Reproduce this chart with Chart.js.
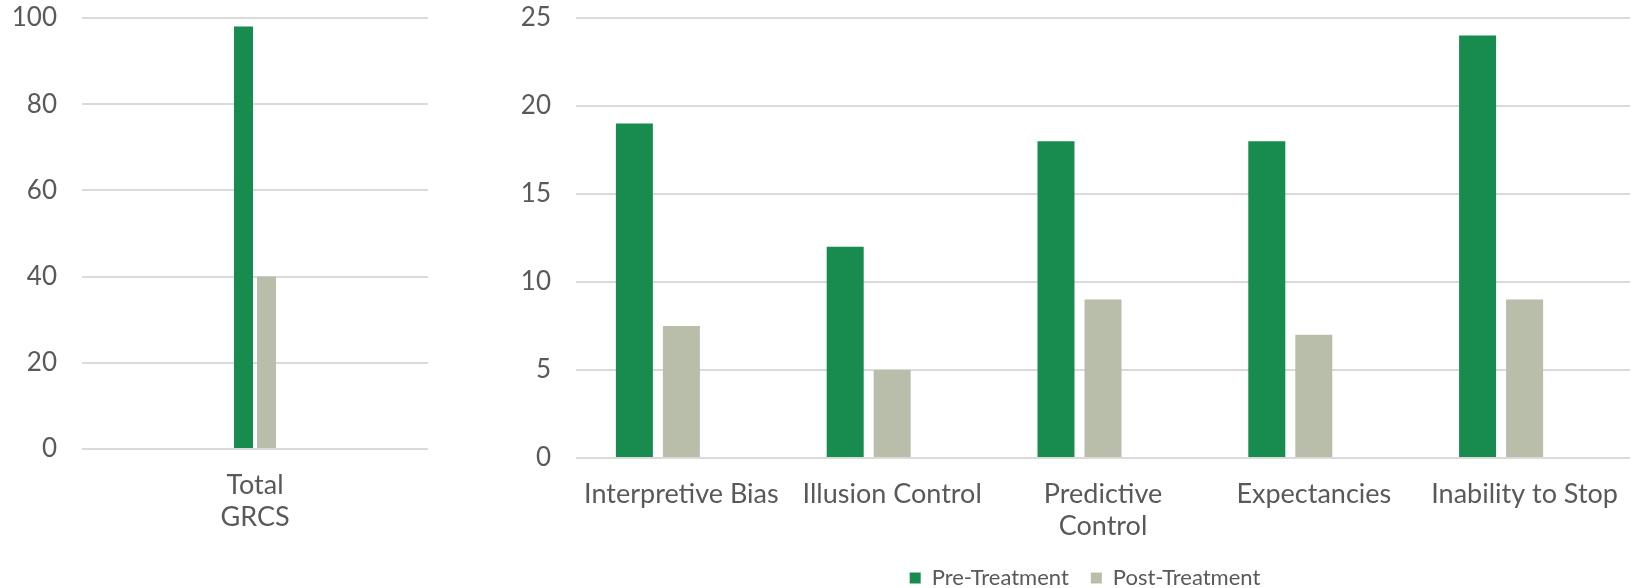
<!DOCTYPE html>
<html>
<head>
<meta charset="utf-8">
<script src="https://cdn.jsdelivr.net/npm/chart.js@4.4.1/dist/chart.umd.min.js"></script>
<style>
  html, body { margin: 0; padding: 0; background: #ffffff; }
  #wrap { position: relative; width: 1632px; height: 588px; overflow: hidden; }
  #totalBox { position: absolute; left: 0; top: 0; width: 440px; height: 588px; }
  #subBox { position: absolute; left: 490px; top: 0; width: 1190px; height: 588px; }
</style>
</head>
<body>
<div id="wrap">
  <div id="totalBox"><canvas id="totalChart" width="440" height="588"></canvas></div>
  <div id="subBox"><canvas id="subChart" width="1190" height="588"></canvas></div>
</div>
<script>
// Gambling Related Cognitions Scale scores, before and after treatment
const seriesNames = ['Pre-Treatment', 'Post-Treatment'];

const totalCategories = [['Total', 'GRCS']];
const totalPre = [98];
const totalPost = [40];
const totalTicks = [0, 20, 40, 60, 80, 100];

const subscaleCategories = ['Interpretive Bias', 'Illusion Control', ['Predictive', 'Control'], 'Expectancies', 'Inability to Stop'];
const subscalePre = [19, 12, 18, 18, 24];
const subscalePost = [7.5, 5, 9, 7, 9];
const subscaleSpare = [null, null, null, null, null];
const subscaleTicks = [0, 5, 10, 15, 20, 25];

const GREEN = '#178C4E';
const SAGE = '#B8BEA9';
const TEXT = '#595959';
const GRID = '#DADADA';

Chart.defaults.font.family = 'Lato, "Open Sans", sans-serif';
Chart.defaults.color = TEXT;

function valueAxis(ticks, width) {
  return {
    position: 'left',
    min: ticks[0],
    max: ticks[ticks.length - 1],
    afterBuildTicks(scale) { scale.ticks = ticks.map(v => ({ value: v })); },
    afterFit(scale) {
      scale.width = width;
      scale.paddingTop = 0;
      scale.paddingBottom = 0;
    },
    grid: { color: GRID, lineWidth: 2, drawTicks: false },
    border: { display: false },
    ticks: { font: { size: 26 }, color: TEXT, padding: 25 }
  };
}

function categoryAxis(height) {
  return {
    afterFit(scale) {
      scale.height = height;
      scale.paddingLeft = 0;
      scale.paddingRight = 0;
    },
    grid: { display: false, drawTicks: false },
    border: { display: false },
    ticks: { font: { size: 27 }, color: TEXT, padding: 20, autoSkip: false, maxRotation: 0, minRotation: 0 }
  };
}

// empty gutter on the right of the subscale panel, so the legend centres under the bars
const rightGutter = {
  position: 'right',
  display: true,
  afterFit(scale) { scale.width = 50; scale.paddingTop = 0; scale.paddingBottom = 0; },
  grid: { display: false, drawTicks: false },
  border: { display: false },
  ticks: { display: false }
};

new Chart(document.getElementById('totalChart'), {
  type: 'bar',
  data: {
    labels: totalCategories,
    datasets: [
      { label: seriesNames[0], data: totalPre, backgroundColor: GREEN, borderWidth: 0 },
      { label: seriesNames[1], data: totalPost, backgroundColor: SAGE, borderWidth: 0 }
    ]
  },
  options: {
    responsive: false,
    animation: false,
    devicePixelRatio: 1,
    layout: { padding: { top: 18, right: 12, bottom: 39, left: 0 } },
    datasets: { bar: { categoryPercentage: 0.133, barPercentage: 0.826 } },
    plugins: { legend: { display: false }, tooltip: { enabled: false } },
    scales: { x: categoryAxis(100), y: valueAxis(totalTicks, 82) }
  }
});

new Chart(document.getElementById('subChart'), {
  type: 'bar',
  data: {
    labels: subscaleCategories,
    datasets: [
      { label: seriesNames[0], data: subscalePre, backgroundColor: GREEN, borderWidth: 0 },
      { label: seriesNames[1], data: subscalePost, backgroundColor: SAGE, borderWidth: 0 },
      { label: '', data: subscaleSpare, backgroundColor: 'rgba(0,0,0,0)', borderWidth: 0 }
    ]
  },
  options: {
    responsive: false,
    animation: false,
    devicePixelRatio: 1,
    layout: { padding: { top: 18, right: 0, bottom: -11, left: 0 } },
    datasets: { bar: { categoryPercentage: 0.669, barPercentage: 0.787 } },
    plugins: {
      tooltip: { enabled: false },
      legend: {
        position: 'bottom',
        align: 'center',
        labels: {
          filter: item => item.datasetIndex < 2,
          boxWidth: 11,
          boxHeight: 11,
          padding: 22,
          color: TEXT,
          font: { size: 22 }
        }
      }
    },
    scales: { x: categoryAxis(87), y: valueAxis(subscaleTicks, 86), gutter: rightGutter }
  }
});
</script>
</body>
</html>
